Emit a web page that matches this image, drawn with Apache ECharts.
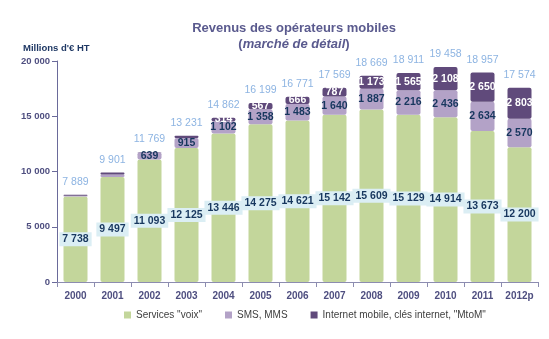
<!DOCTYPE html>
<html><head><meta charset="utf-8">
<script src="https://cdn.jsdelivr.net/npm/echarts@6/dist/echarts.min.js"></script>
<style>html,body{margin:0;padding:0;background:#fff}#c{width:549px;height:339px}</style>
</head><body><div id="c"></div>
<script>
var categories = ['2000','2001','2002','2003','2004','2005','2006','2007','2008','2009','2010','2011','2012p'];
var voix = [7738, 9497, 11093, 12125, 13446, 14275, 14621, 15142, 15609, 15129, 14914, 13673, 12200];
var sms = [70, 230, 639, 915, 1102, 1358, 1483, 1640, 1887, 2216, 2436, 2634, 2570];
var internet = [81, 174, 37, 191, 314, 567, 666, 787, 1173, 1565, 2108, 2650, 2803];
var totals = [7889, 9901, 11769, 13231, 14862, 16199, 16771, 17569, 18669, 18911, 19458, 18957, 17574];
var smsLabelFrom = 2;
var internetLabelFrom = 4;

function fmt(v){ return String(v).replace(/\B(?=(\d{3})+(?!\d))/g, ' '); }

var chart = echarts.init(document.getElementById('c'), null, {renderer:'canvas'});
var FONT = 'Liberation Sans, Arial, sans-serif';
chart.setOption({
  animation:false,
  textStyle:{fontFamily:FONT},
  title:[{
    text:'Revenus des opérateurs mobiles\n{n|(}{i|marché de détail}{n|)}',
    left:289, top:15, textAlign:'center',
    textStyle:{fontSize:13, fontWeight:'bold', color:'#5a5a8e', fontFamily:FONT, lineHeight:16,
      rich:{n:{fontSize:13,fontWeight:'bold',color:'#5a5a8e',fontFamily:FONT,lineHeight:16},
            i:{fontSize:13,fontWeight:'bold',fontStyle:'italic',color:'#5a5a8e',fontFamily:FONT,lineHeight:16}}}
  },{
    text:'Millions d\'€ HT', left:18, top:38,
    textStyle:{fontSize:9.5, fontWeight:'bold', color:'#1f3864', fontFamily:FONT}
  }],
  legend:{
    bottom:14, left:119, itemWidth:7, itemHeight:7, itemGap:23,
    icon:'rect',
    textStyle:{fontSize:10, color:'#404040', fontFamily:FONT},
    data:['Services "voix"','SMS, MMS','Internet mobile, clés internet, "MtoM"']
  },
  grid:{left:57, right:11, top:61, bottom:57},
  xAxis:{
    type:'category', data:categories,
    axisLine:{lineStyle:{color:'#8c8cb0'}},
    axisTick:{show:true, lineStyle:{color:'#8c8cb0'}},
    axisLabel:{interval:0, fontSize:10, fontWeight:'bold', color:'#4f4f80', margin:9}
  },
  yAxis:{
    type:'value', min:0, max:20000, interval:5000,
    axisLine:{show:true, lineStyle:{color:'#6a6a9a'}},
    axisTick:{show:true, lineStyle:{color:'#6a6a9a'}},
    splitLine:{show:false},
    axisLabel:{fontSize:9.5, fontWeight:'bold', color:'#4f4f80', margin:7, formatter:function(v){return fmt(v);}}
  },
  series:[{
    name:'Services "voix"', type:'bar', stack:'t', barWidth:24,
    itemStyle:{color:'#c3d69b', borderRadius:2},
    label:{show:true, position:'inside', formatter:function(p){return fmt(p.value);},
      backgroundColor:'#dbeef4', padding:[2,3,1,3], color:'#17375e', fontWeight:'bold', fontSize:10.5},
    data:voix
  },{
    name:'SMS, MMS', type:'bar', stack:'t',
    itemStyle:{color:'#b3a2c7', borderRadius:2},
    label:{position:'inside', color:'#17375e', fontWeight:'bold', fontSize:10.5, formatter:function(p){return fmt(p.value);}},
    data:sms.map(function(v,i){return {value:v, label:{show:i>=smsLabelFrom}};})
  },{
    name:'Internet mobile, clés internet, "MtoM"', type:'bar', stack:'t',
    itemStyle:{color:'#604a7b', borderRadius:2},
    label:{position:'inside', color:'#ffffff', fontWeight:'bold', fontSize:10.5, formatter:function(p){return fmt(p.value);}},
    data:internet.map(function(v,i){return {value:v, label:{show:i>=internetLabelFrom}};})
  },{
    name:'total', type:'bar', stack:'t',
    itemStyle:{color:'transparent'},
    label:{show:true, position:'top', distance:7, color:'#8db4e2', fontSize:10.5,
      formatter:function(p){return fmt(totals[p.dataIndex]);}},
    data:totals.map(function(){return 0;})
  }]
});
</script></body></html>
